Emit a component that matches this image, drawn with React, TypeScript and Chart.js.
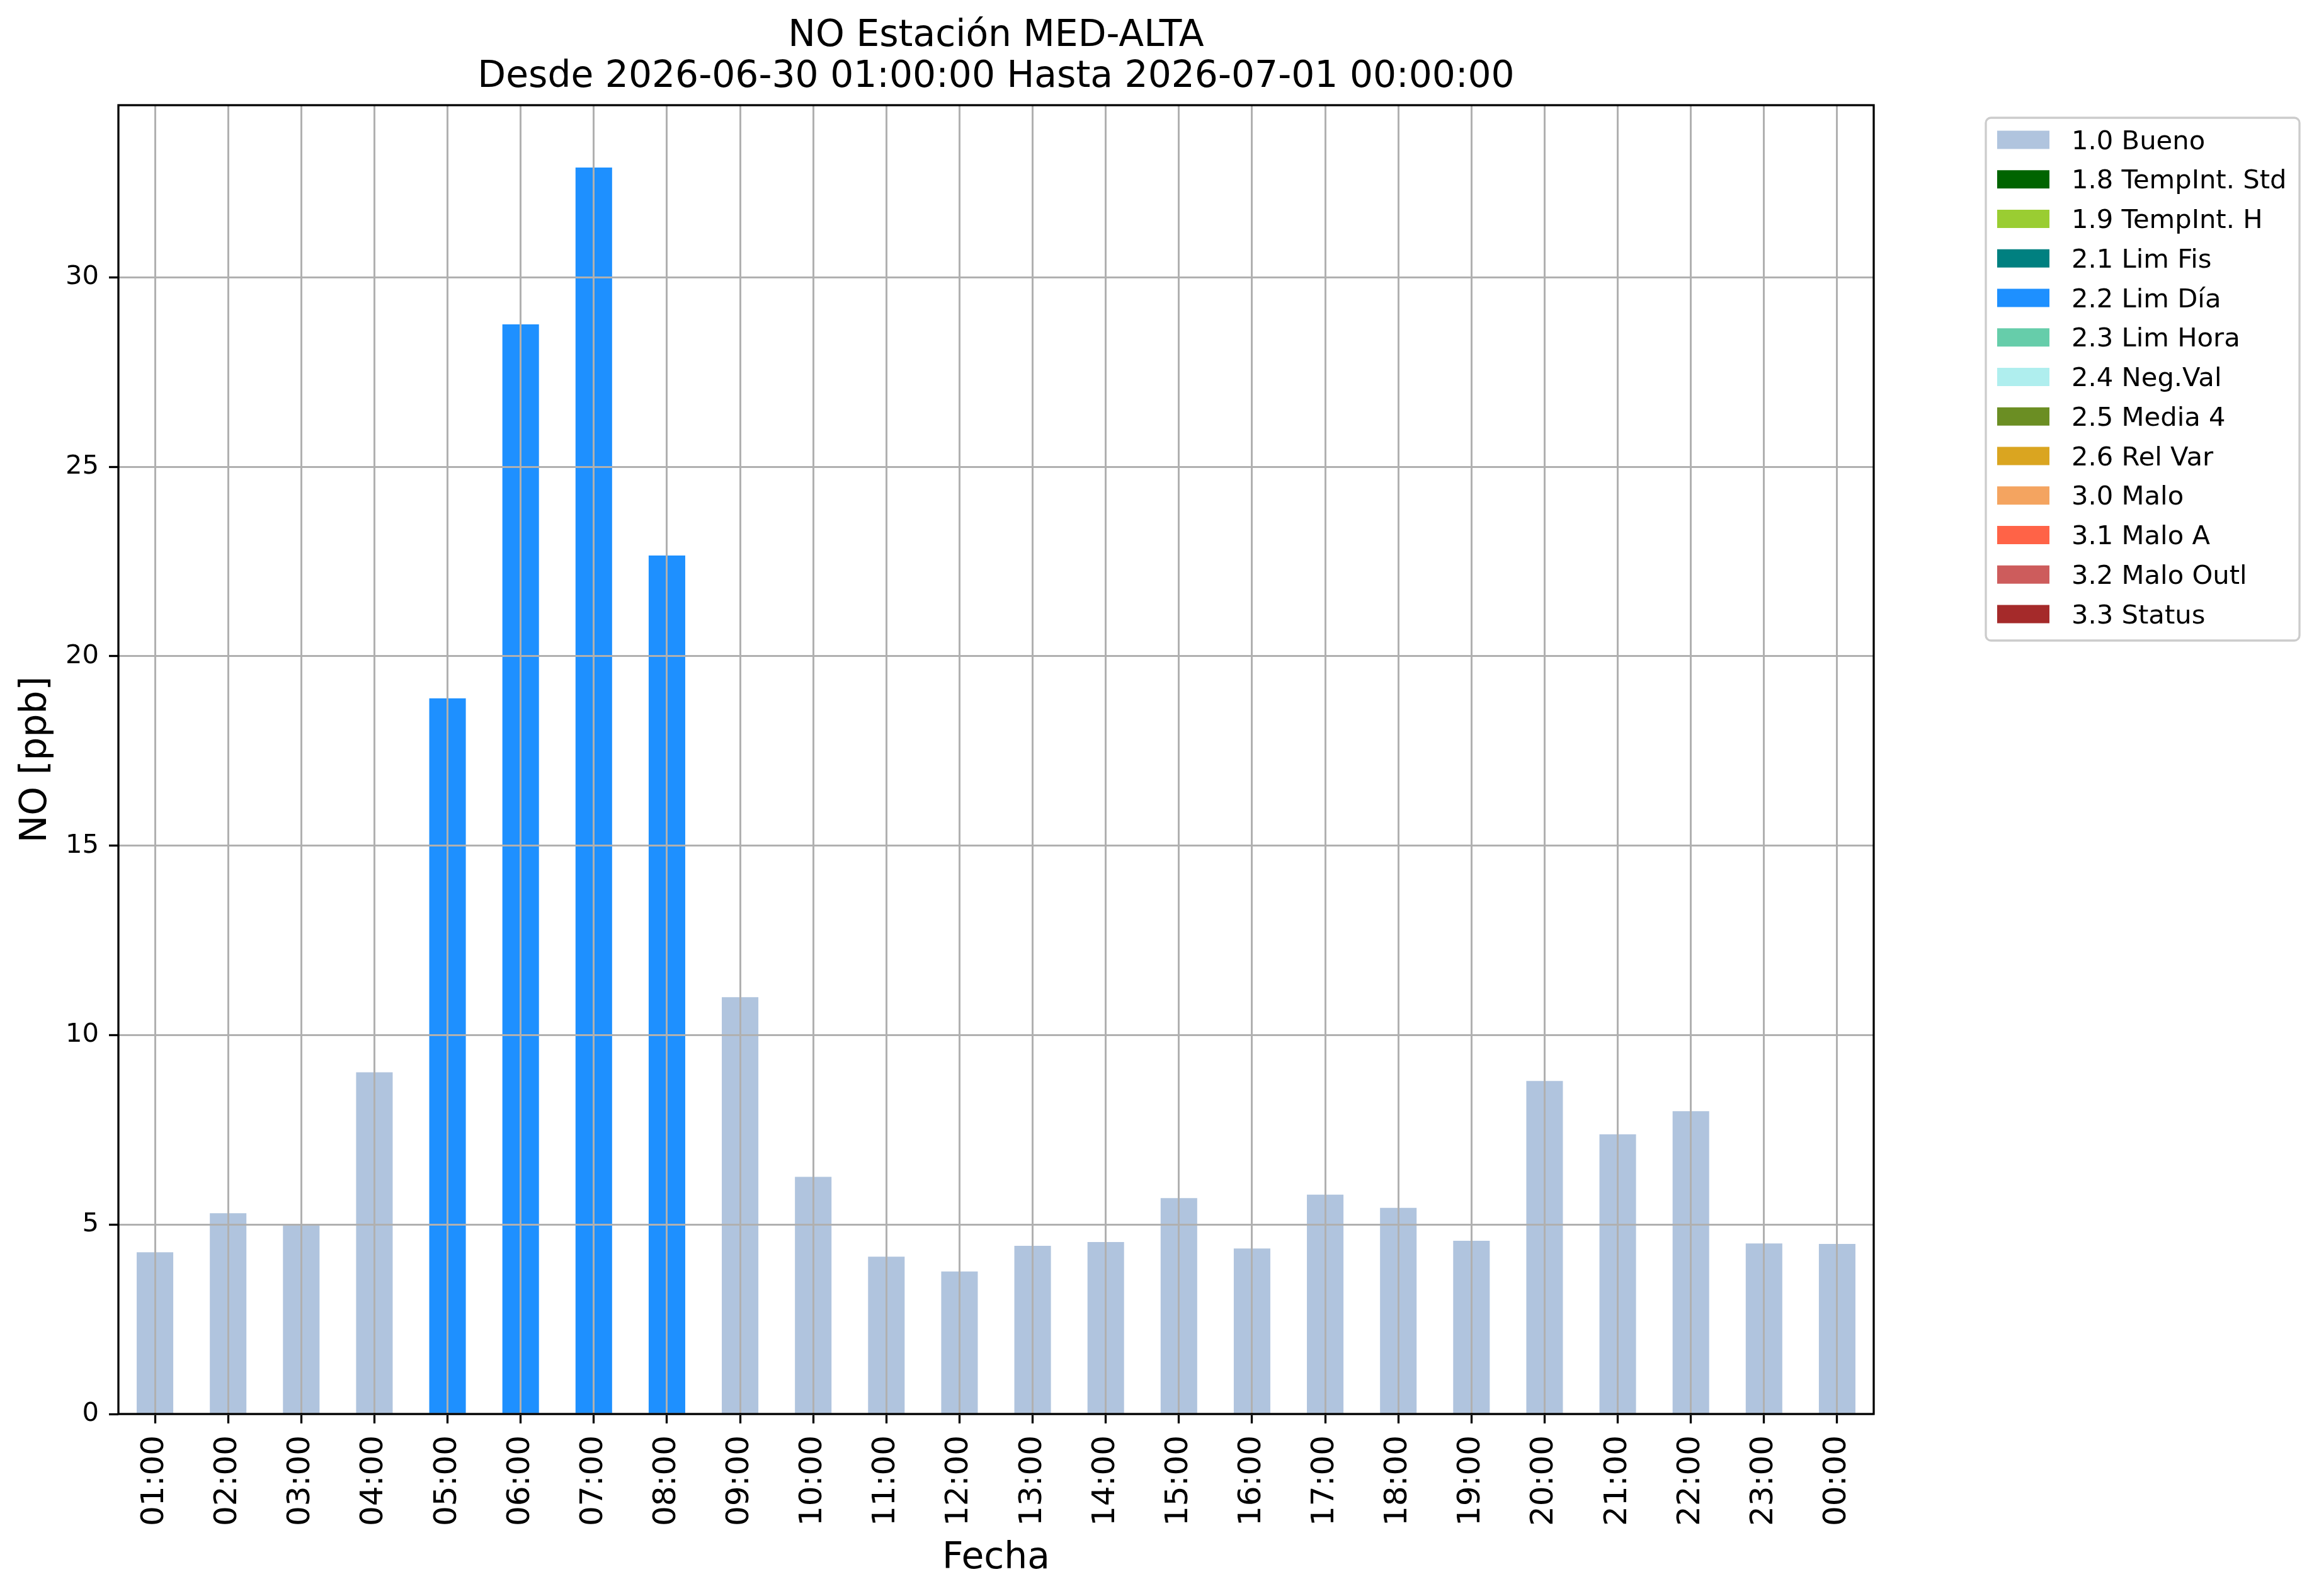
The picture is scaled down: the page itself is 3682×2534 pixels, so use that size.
import React, { useEffect, useRef } from 'react';
import { Chart, registerables } from 'chart.js';

Chart.register(...registerables);

const hours = ['01:00', '02:00', '03:00', '04:00', '05:00', '06:00', '07:00', '08:00', '09:00', '10:00', '11:00', '12:00',
  '13:00', '14:00', '15:00', '16:00', '17:00', '18:00', '19:00', '20:00', '21:00', '22:00', '23:00', '00:00'];
const noValues = [4.27, 5.30, 4.99, 9.02, 18.89, 28.76, 32.90, 22.66, 11.00, 6.26, 4.15, 3.76,
  4.44, 4.54, 5.70, 4.37, 5.79, 5.44, 4.57, 8.79, 7.38, 7.99, 4.50, 4.49];
const hourFlags = ['1.0', '1.0', '1.0', '1.0', '2.2', '2.2', '2.2', '2.2', '1.0', '1.0', '1.0', '1.0',
  '1.0', '1.0', '1.0', '1.0', '1.0', '1.0', '1.0', '1.0', '1.0', '1.0', '1.0', '1.0'];
const flagCodes = ['1.0', '1.8', '1.9', '2.1', '2.2', '2.3', '2.4', '2.5', '2.6', '3.0', '3.1', '3.2', '3.3'];
const flagNames = ['Bueno', 'TempInt. Std', 'TempInt. H', 'Lim Fis', 'Lim Día', 'Lim Hora', 'Neg.Val', 'Media 4',
  'Rel Var', 'Malo', 'Malo A', 'Malo Outl', 'Status'];
const flagColors = ['#B0C4DE', '#006400', '#9ACD32', '#008080', '#1E90FF', '#66CDAA', '#AFEEEE', '#6B8E23',
  '#DAA520', '#F4A460', '#FF6347', '#CD5C5C', '#A52A2A'];
const titleLines = ['NO Estación MED-ALTA', 'Desde 2026-06-30 01:00:00 Hasta 2026-07-01 00:00:00'];
const yAxisTitle = 'NO [ppb]';
const xAxisTitle = 'Fecha';

const FONT = '"DejaVu Sans", sans-serif';
const W = 3682;
const H = 2534;

const spinePlugin = {
  id: 'spines',
  afterDraw(chart: any) {
    const { ctx, chartArea } = chart;
    ctx.save();
    ctx.strokeStyle = '#000000';
    ctx.lineWidth = 3.3;
    ctx.strokeRect(chartArea.left, chartArea.top, chartArea.right - chartArea.left, chartArea.bottom - chartArea.top);
    ctx.restore();
  },
};

const legendPlugin = {
  id: 'flagLegend',
  afterDraw(chart: any) {
    const { ctx } = chart;
    const fontSize = 41.7;
    const x0 = 3153;
    const y0 = 187;
    const swX = 3171;
    const swW = 83;
    const swH = 29;
    const textX = 3289;
    const firstY = 222;
    const step = 62.75;
    ctx.save();
    ctx.font = `${fontSize}px ${FONT}`;
    let maxW = 0;
    chart.data.datasets.forEach((ds: any) => {
      maxW = Math.max(maxW, ctx.measureText(ds.label).width);
    });
    const n = chart.data.datasets.length;
    const x1 = Math.max(3651, textX + maxW + 20);
    const y1 = firstY + (n - 1) * step + 42;
    ctx.fillStyle = 'rgba(255,255,255,0.8)';
    ctx.strokeStyle = '#cccccc';
    ctx.lineWidth = 3.3;
    ctx.beginPath();
    ctx.roundRect(x0, y0, x1 - x0, y1 - y0, 8);
    ctx.fill();
    ctx.stroke();
    chart.data.datasets.forEach((ds: any, i: number) => {
      const cy = firstY + i * step;
      ctx.fillStyle = ds.backgroundColor;
      ctx.fillRect(swX, cy - swH / 2, swW, swH);
      ctx.fillStyle = '#000000';
      ctx.textAlign = 'left';
      ctx.textBaseline = 'alphabetic';
      ctx.fillText(ds.label, textX, cy + 14.5);
    });
    ctx.restore();
  },
};

export default function App() {
  const canvasRef = useRef<HTMLCanvasElement | null>(null);

  useEffect(() => {
    const canvas = canvasRef.current;
    if (!canvas) return;
    const datasets = flagCodes.map((code, fi) => ({
      label: `${code} ${flagNames[fi]}`,
      data: noValues.map((v, i) => (hourFlags[i] === code ? v : null)),
      backgroundColor: flagColors[fi],
      borderWidth: 0,
      barPercentage: 0.5,
      categoryPercentage: 1.0,
    }));
    const yMax = Math.max(...noValues) * 1.05;

    const chart = new Chart(canvas, {
      type: 'bar',
      data: { labels: hours, datasets },
      plugins: [spinePlugin, legendPlugin],
      options: {
        responsive: false,
        devicePixelRatio: 1,
        animation: false,
        layout: { padding: { left: 0, top: 0, right: W - 2975, bottom: 0 } },
        plugins: {
          legend: { display: false },
          tooltip: { enabled: false },
          title: {
            display: true,
            text: titleLines,
            color: '#000000',
            fullSize: false,
            font: { family: FONT, size: 58.3, weight: 'normal', lineHeight: '65px' },
            padding: { top: 25.2, bottom: 11.8 },
          },
        },
        scales: {
          x: {
            type: 'category',
            stacked: true,
            offset: true,
            border: { display: false },
            grid: {
              z: 1,
              offset: false,
              color: '#b0b0b0',
              lineWidth: 3,
              drawTicks: true,
              tickLength: 15,
              tickColor: '#000000',
              tickWidth: 3.3,
            },
            ticks: {
              autoSkip: false,
              minRotation: 90,
              maxRotation: 90,
              padding: 19,
              color: '#000000',
              font: { family: FONT, size: 50 },
            },
            title: {
              display: true,
              text: xAxisTitle,
              color: '#000000',
              font: { family: FONT, size: 58.3, lineHeight: 1.2 },
              padding: { top: 0, bottom: 24 },
            },
            afterFit(scale: any) {
              scale.height = 289;
            },
          },
          y: {
            type: 'linear',
            stacked: true,
            min: 0,
            max: yMax,
            border: { display: false },
            grid: {
              z: 1,
              color: '#b0b0b0',
              lineWidth: 3,
              drawTicks: true,
              tickLength: 15,
              tickColor: '#000000',
              tickWidth: 3.3,
            },
            ticks: {
              stepSize: 5,
              includeBounds: false,
              padding: 16,
              color: '#000000',
              font: { family: FONT, size: 41.7 },
            },
            title: {
              display: true,
              text: yAxisTitle,
              color: '#000000',
              font: { family: FONT, size: 58.3, lineHeight: 1.2 },
              padding: { top: 23, bottom: 0 },
            },
            afterFit(scale: any) {
              scale.width = 188;
            },
          },
        },
      } as any,
    });
    return () => chart.destroy();
  }, []);

  return (
    <div style={{ position: 'fixed', left: 0, top: 0, width: W, height: H, background: '#ffffff' }}>
      <canvas ref={canvasRef} width={W} height={H} style={{ display: 'block', width: W, height: H }} />
    </div>
  );
}
